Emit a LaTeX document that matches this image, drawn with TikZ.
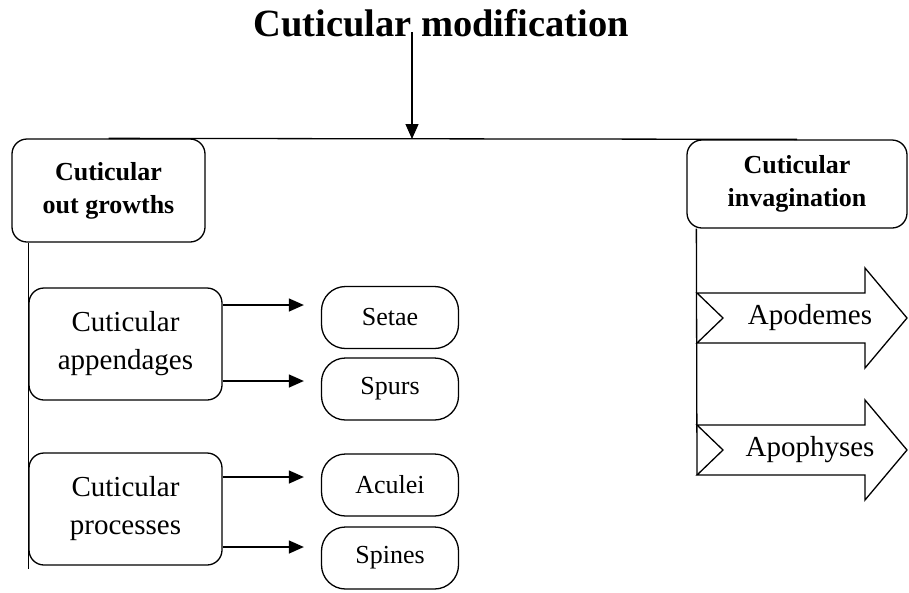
\documentclass[tikz,border=0pt]{standalone}
\usepackage{fontspec}
\setmainfont{Liberation Serif}
\usetikzlibrary{arrows.meta}
\tikzset{>={Triangle[length=15pt,width=13pt]}}

\begin{document}
\begin{tikzpicture}[x=1pt,y=-1pt,
    line/.style={line width=1.3pt},
    rbox/.style={draw,line,rounded corners=15pt,align=center,inner sep=0pt},
    head/.style={rbox,font=\fontsize{26}{33}\selectfont\bfseries},
    group/.style={rbox,minimum width=193pt,minimum height=112pt,font=\fontsize{29}{38}\selectfont},
    leaf/.style={rbox,rounded corners=24pt,minimum width=137pt,minimum height=62pt,font=\fontsize{26}{30}\selectfont},
    link/.style={line,->},
  ]
  \useasboundingbox (0,0) rectangle (909,592);

  \def\xt{697}  % right trunk
  \def\hw{25}   % half body of block arrow
  \def\hh{50}   % half head of block arrow

  % TITLE
  \node[font=\fontsize{38.5}{42}\selectfont\bfseries,anchor=base] (title) at (441,36) {Cuticular modification};
  \coordinate (top) at (412,32);
  \coordinate (hub) at (412,139);
  \draw[link] (top) -- (hub);

  % MAIN BRANCHES
  \node[head,minimum width=193pt,minimum height=103pt] (growths) at (108.5,190.5) {Cuticular\\out growths};
  \node[head,minimum width=220pt,minimum height=88pt] (invag) at (797,184) {Cuticular\\invagination};
  \draw[line] (growths.north) -- (invag.north);

  % OUT GROWTHS
  \node[group] (app) at (125.5,344) {Cuticular\\appendages};
  \node[group] (proc) at (125.5,509) {Cuticular\\processes};
  \draw[line] (growths.south -| app.west) -- ([yshift=-3pt]proc.south west);

  \node[leaf] (setae) at (390,317.5) {Setae};
  \node[leaf] (spurs) at (390,389) {Spurs};
  \node[leaf] (aculei) at (390,485) {Aculei};
  \node[leaf] (spines) at (390,558) {Spines};

  \foreach \src/\dst/\dy in {app/setae/39, app/spurs/-37, proc/aculei/32, proc/spines/-38}{
    \coordinate (tail) at ([yshift=\dy pt]\src.east);
    \draw[link,shorten >=17pt] (tail) -- (tail -| \dst.west);
  }

  % INVAGINATION
  \foreach \name/\txt/\yc in {apod/Apodemes/318, apoph/Apophyses/450}{
    \draw[line] (\xt,\yc-\hw) -- (865,\yc-\hw) -- (865,\yc-\hh) -- (907,\yc)
      -- (865,\yc+\hh) -- (865,\yc+\hw) -- (\xt,\yc+\hw) -- (723,\yc) -- cycle;
    \node[font=\fontsize{29}{34}\selectfont] (\name) at (810,\yc) {\txt};
    \coordinate (\name-end) at (\xt,\yc+\hw);
  }
  \coordinate (rtop) at ([xshift=10pt]invag.south west);
  \draw[line] (rtop) -- (apoph-end);

\end{tikzpicture}
\end{document}
